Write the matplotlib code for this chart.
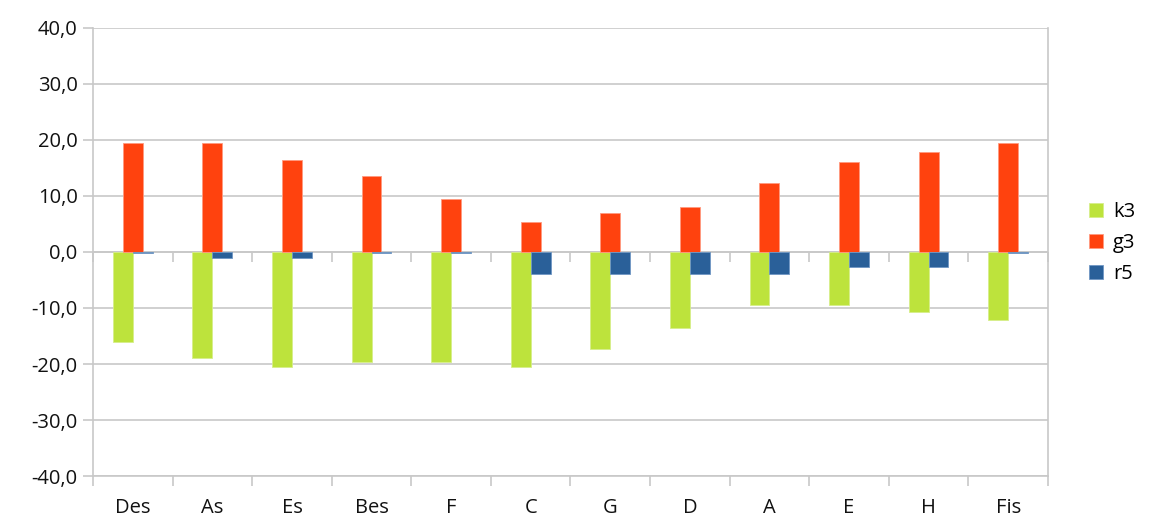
import numpy as np
import matplotlib
matplotlib.use("Agg")
import matplotlib.pyplot as plt
from matplotlib.ticker import FuncFormatter, FixedLocator

plt.rcParams['font.family'] = ['Open Sans', 'DejaVu Sans']

# Tonarten und die drei Messreihen
tonarten = ["Des", "As", "Es", "Bes", "F", "C", "G", "D", "A", "E", "H", "Fis"]
k3 = [-16.1, -18.9, -20.5, -19.6, -19.6, -20.5, -17.4, -13.5, -9.4, -9.4, -10.8, -12.1]
g3 = [19.5, 19.5, 16.5, 13.5, 9.5, 5.4, 6.9, 8.1, 12.3, 16.1, 17.9, 19.5]
r5 = [-0.2, -1.0, -1.0, -0.2, -0.2, -4.0, -4.0, -4.0, -4.0, -2.6, -2.6, -0.2]

farben = {"k3": "#bde33c", "g3": "#ff420e", "r5": "#2a6099"}
grau = "#c8c8c8"
schrift = 14.5

fig = plt.figure(figsize=(11.64, 5.22), dpi=100)
ax = fig.add_axes([0.0799, 0.0881, 0.8204, 0.8583])

x = np.arange(len(tonarten))
breite = 0.25
versatz = 0.125
ax.bar(x - versatz, k3, breite, color=farben["k3"], edgecolor="#d6ee8a", linewidth=0.6, label="k3", zorder=3)
ax.bar(x, g3, breite, color=farben["g3"], edgecolor="#ff9a80", linewidth=0.6, label="g3", zorder=3)
ax.bar(x + versatz, r5, breite, color=farben["r5"], edgecolor="#6f97c4", linewidth=0.6, label="r5", zorder=4)

ax.set_xlim(-0.5, len(tonarten) - 0.5)
ax.set_ylim(-40, 40)
ax.set_yticks(np.arange(-40, 41, 10))
ax.yaxis.set_major_formatter(FuncFormatter(lambda v, p: f"{v:.1f}".replace(".", ",")))
ax.grid(axis="y", color=grau, linewidth=1.2, zorder=0)
ax.axhline(0, color=grau, linewidth=1.2, zorder=2)

# Kategorienbeschriftung unten, Teilstriche an den Kategoriegrenzen
grenzen = np.arange(-0.5, len(tonarten), 1.0)
ax.set_xticks(x)
ax.set_xticklabels(tonarten)
ax.xaxis.set_minor_locator(FixedLocator(grenzen))
ax.tick_params(axis="x", which="major", length=0, pad=16, labelsize=schrift, colors="#111111")
ax.tick_params(axis="x", which="minor", length=7, width=1.2, color=grau)
ax.tick_params(axis="y", length=7, width=1.2, color=grau, labelsize=schrift, labelcolor="#111111", pad=4)

for s in ["left", "right", "top", "bottom"]:
    ax.spines[s].set_color(grau)
    ax.spines[s].set_linewidth(1.2)
ax.spines["top"].set_visible(False)

# Teilstriche auf der Nulllinie
sek = ax.secondary_xaxis(0.5)
sek.set_xticks(grenzen)
sek.set_xticklabels([])
sek.xaxis.set_ticks_position("bottom")
sek.tick_params(axis="x", length=7, width=1.2, color=grau, direction="out")
for s in sek.spines.values():
    s.set_visible(False)

fig.legend(loc="center left", bbox_to_anchor=(0.92, 0.535), frameon=False,
           fontsize=schrift, handlelength=0.7, handleheight=0.7, labelspacing=0.55,
           handletextpad=0.5)

fig.savefig("out.png", dpi=100)
